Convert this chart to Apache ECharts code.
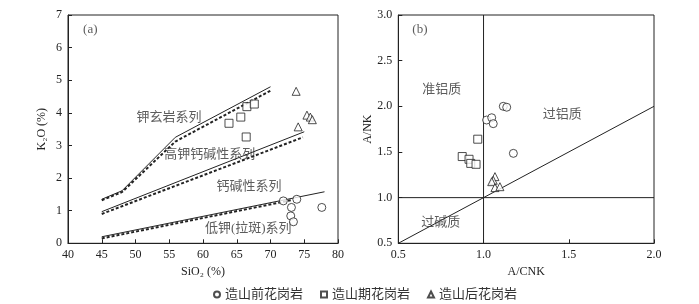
<!DOCTYPE html>
<html><head><meta charset="utf-8">
<script src="https://cdn.jsdelivr.net/npm/echarts@6/dist/echarts.min.js"></script>
<style>html,body{margin:0;padding:0;background:#fff}#c{width:699px;height:304px}</style>
</head><body><div id="c"></div>
<script>
// ---- Data: chart (a) SiO2 vs K2O ----
const xTicksA = [40, 45, 50, 55, 60, 65, 70, 75, 80];
const yTicksA = [0, 1, 2, 3, 4, 5, 6, 7];
const shoshSolid = [[45, 1.35], [48, 1.61], [55.9, 3.25], [70, 4.8]];
const shoshDash = [[45, 1.32], [48, 1.57], [55.9, 3.12], [70, 4.68]];
const highKSolid = [[45, 0.97], [75, 3.42]];
const highKDash = [[45, 0.9], [74.8, 3.25]];
const lowKSolid = [[45, 0.2], [78, 1.58]];
const lowKDash = [[45, 0.15], [73, 1.32]];
const preA = [[71.9, 1.30], [73.1, 1.10], [73.0, 0.84], [73.4, 0.66], [73.9, 1.35], [77.6, 1.10]];
const synA = [[63.85, 3.68], [65.6, 3.87], [66.5, 4.19], [67.6, 4.27], [66.4, 3.26]];
const postA = [[73.8, 4.66], [74.1, 3.57], [75.4, 3.93], [75.9, 3.87], [76.2, 3.79]];
const labelsA = [
  {name: '钾玄岩系列', value: [54.96, 3.87]},
  {name: '高钾钙碱性系列', value: [61.0, 2.71]},
  {name: '钙碱性系列', value: [66.8, 1.73]},
  {name: '低钾(拉斑)系列', value: [66.7, 0.44]},
  {name: '(a)', value: [43.3, 6.54]}
];
// ---- Data: chart (b) A/CNK vs A/NK ----
const xTicksB = [0.5, 1.0, 1.5, 2.0];
const yTicksB = [0.5, 1.0, 1.5, 2.0, 2.5, 3.0];
const vLineB = [[1.0, 0.5], [1.0, 3.0]];
const hLineB = [[0.5, 1.0], [2.0, 1.0]];
const diagB = [[0.5, 0.5], [2.0, 2.0]];
const preB = [[1.018, 1.85], [1.048, 1.875], [1.057, 1.81], [1.116, 2.0], [1.136, 1.99], [1.175, 1.485]];
const synB = [[0.966, 1.64], [0.875, 1.45], [0.915, 1.42], [0.925, 1.375], [0.956, 1.365]];
const postB = [[1.067, 1.23], [1.057, 1.19], [1.048, 1.175], [1.067, 1.11], [1.096, 1.12]];
const labelsB = [
  {name: '(b)', value: [0.627, 2.836]},
  {name: '准铝质', value: [0.755, 2.186]},
  {name: '过铝质', value: [1.462, 1.905]},
  {name: '过碱质', value: [0.749, 0.725]}
];
const seriesNames = ['造山前花岗岩', '造山期花岗岩', '造山后花岗岩'];

const ink = '#222';
const serif = 'Liberation Serif, Noto Sans CJK SC';
const chart = echarts.init(document.getElementById('c'), null, {renderer: 'canvas'});

function axisCommon(min, max, interval, fmt) {
  return {
    type: 'value', min: min, max: max, interval: interval,
    axisLine: {show: true, onZero: false, lineStyle: {color: ink, width: 1}},
    axisTick: {show: true, inside: true, length: 4, lineStyle: {color: ink}},
    splitLine: {show: false},
    axisLabel: {color: '#222', fontFamily: serif, fontSize: 12, formatter: fmt, margin: 6}
  };
}
function lineS(data, xi, dashed) {
  return {
    type: 'line', xAxisIndex: xi, yAxisIndex: xi, data: data, symbol: 'none', silent: true,
    lineStyle: dashed ? {color: ink, width: 2, type: [3, 2]} : {color: ink, width: 1},
    z: 2
  };
}
function scat(name, data, xi, symbol, size) {
  return {
    type: 'scatter', name: name, xAxisIndex: xi, yAxisIndex: xi, data: data,
    symbol: symbol, symbolSize: size,
    itemStyle: {color: '#fff', borderColor: ink, borderWidth: 1}, z: 5
  };
}
function labS(data, xi) {
  return {
    type: 'scatter', xAxisIndex: xi, yAxisIndex: xi, data: data, symbolSize: 0, silent: true,
    label: {show: true, position: 'inside', formatter: p => p.name, color: '#333',
      fontFamily: serif, fontSize: 13},
    z: 4
  };
}

chart.setOption({
  animation: false,
  grid: [
    {left: 68, top: 15, width: 270, height: 228.3, show: true, borderColor: ink, borderWidth: 1},
    {left: 398.3, top: 15, width: 255.7, height: 228.3, show: true, borderColor: ink, borderWidth: 1}
  ],
  xAxis: [
    Object.assign(axisCommon(xTicksA[0], xTicksA[xTicksA.length - 1], 5, v => v), {
      gridIndex: 0, name: 'SiO₂ (%)', nameLocation: 'middle', nameGap: 22,
      nameTextStyle: {fontFamily: serif, fontSize: 12, color: '#222'}}),
    Object.assign(axisCommon(xTicksB[0], xTicksB[xTicksB.length - 1], 0.5, v => v.toFixed(1)), {
      gridIndex: 1, name: 'A/CNK', nameLocation: 'middle', nameGap: 22,
      nameTextStyle: {fontFamily: serif, fontSize: 12, color: '#222'}})
  ],
  yAxis: [
    Object.assign(axisCommon(yTicksA[0], yTicksA[yTicksA.length - 1], 1, v => v), {
      gridIndex: 0, name: 'K₂O (%)', nameLocation: 'middle', nameGap: 20,
      nameTextStyle: {fontFamily: serif, fontSize: 12, color: '#222'}}),
    Object.assign(axisCommon(yTicksB[0], yTicksB[yTicksB.length - 1], 0.5, v => v.toFixed(1)), {
      gridIndex: 1, name: 'A/NK', nameLocation: 'middle', nameGap: 22,
      nameTextStyle: {fontFamily: serif, fontSize: 12, color: '#222'}})
  ],
  legend: {
    left: 208, top: 283, itemWidth: 6, itemHeight: 6, itemGap: 17,
    data: seriesNames,
    textStyle: {fontFamily: serif, fontSize: 13, color: '#333'}
  },
  series: [
    lineS(shoshSolid, 0, false), lineS(shoshDash, 0, true),
    lineS(highKSolid, 0, false), lineS(highKDash, 0, true),
    lineS(lowKSolid, 0, false), lineS(lowKDash, 0, true),
    labS(labelsA, 0),
    scat(seriesNames[0], preA, 0, 'circle', 8),
    scat(seriesNames[1], synA, 0, 'rect', 8),
    scat(seriesNames[2], postA, 0, 'triangle', 8),
    lineS(vLineB, 1, false), lineS(hLineB, 1, false), lineS(diagB, 1, false),
    labS(labelsB, 1),
    scat(seriesNames[0], preB, 1, 'circle', 8),
    scat(seriesNames[1], synB, 1, 'rect', 8),
    scat(seriesNames[2], postB, 1, 'triangle', 8)
  ]
});
</script></body></html>
